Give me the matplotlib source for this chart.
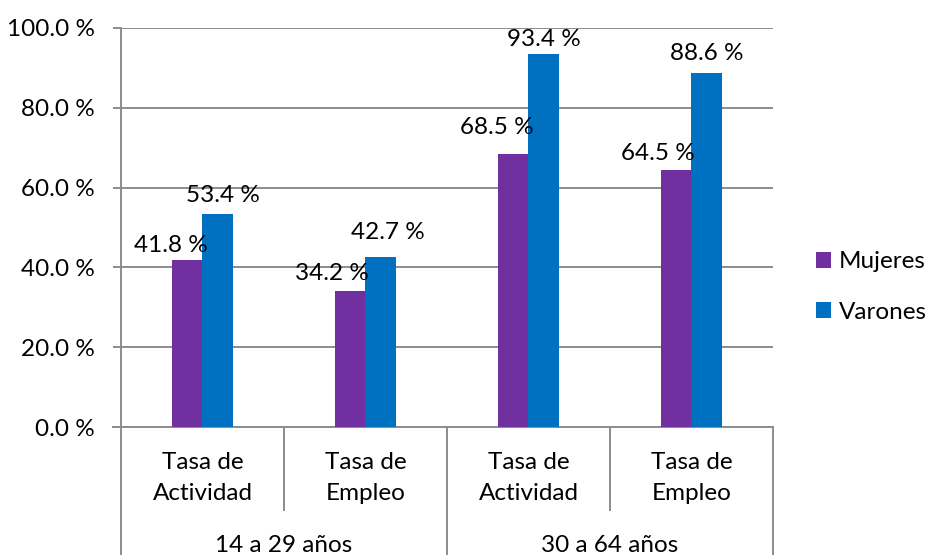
import numpy as np
import matplotlib.pyplot as plt

plt.rcParams['font.family'] = ['Lato', 'DejaVu Sans']

groups = ['14 a 29 años', '30 a 64 años']
categories = ['Tasa de\nActividad', 'Tasa de\nEmpleo', 'Tasa de\nActividad', 'Tasa de\nEmpleo']
mujeres = [41.8, 34.2, 68.5, 64.5]
varones = [53.4, 42.7, 93.4, 88.6]
yticks = [0, 20, 40, 60, 80, 100]

# label offsets in pixels (dx, dy) relative to bar top center, like Excel placed them
off_m = [(-16, 15), (-18, 17), (-16, 26), (-18, 16)]
off_v = [(5, 18), (7, 24), (0, 15), (0, 20)]

c_m = '#7030A0'
c_v = '#0070C0'
grid_c = '#8c8c8c'
fs = 17.5

fig = plt.figure(figsize=(9.29, 5.55), dpi=100)
W, H = 929, 555
ax = fig.add_axes([121 / W, 1 - 427 / H, (773 - 121) / W, (427 - 28) / H])

x = np.arange(len(categories))
bw = 0.19
ax.bar(x - bw / 2, mujeres, bw, color=c_m, label='Mujeres', zorder=3)
ax.bar(x + bw / 2, varones, bw, color=c_v, label='Varones', zorder=3)

px = 72 / 100.0
for i in range(len(x)):
    ax.annotate('%.1f %%' % mujeres[i], (x[i] - bw / 2, mujeres[i]),
                xytext=(off_m[i][0] * px, off_m[i][1] * px), textcoords='offset points',
                ha='center', va='center', fontsize=fs)
    ax.annotate('%.1f %%' % varones[i], (x[i] + bw / 2, varones[i]),
                xytext=(off_v[i][0] * px, off_v[i][1] * px), textcoords='offset points',
                ha='center', va='center', fontsize=fs)

ax.set_xlim(-0.5, len(categories) - 0.5)
ax.set_ylim(0, 100)
ax.set_yticks(yticks)
ax.set_yticklabels(['%.1f %%' % v for v in yticks], fontsize=fs)
ax.tick_params(axis='y', length=6, width=1.4, color=grid_c, pad=13)
ax.set_xticks([])
for v in yticks:
    ax.axhline(v, color=grid_c, lw=1.4, zorder=1)

for s in ['top', 'right', 'bottom']:
    ax.spines[s].set_visible(False)
ax.spines['left'].set_color(grid_c)
ax.spines['left'].set_linewidth(1.4)

# multi-level category axis
tr = ax.get_xaxis_transform()
ax.plot([-0.5 - 8 / 163, 3.5], [0, 0], color=grid_c, lw=1.4, transform=tr, clip_on=False)
for b in [-0.5, 1.5, 3.5]:
    ax.plot([b, b], [0, -0.33], color=grid_c, lw=1.4, transform=tr, clip_on=False)
for b in [0.5, 2.5]:
    ax.plot([b, b], [0, -0.208], color=grid_c, lw=1.4, transform=tr, clip_on=False)
for i, c in enumerate(categories):
    ax.text(x[i], -0.128, c, transform=tr, ha='center', va='center', fontsize=fs,
            linespacing=1.55)
for j, g in enumerate(groups):
    ax.text(2 * j + 0.5, -0.296, g, transform=tr, ha='center', va='center', fontsize=fs)

fig.legend(loc='center left', bbox_to_anchor=(816 / W, 1 - 287 / H), frameon=False,
           fontsize=fs, handlelength=0.6, handleheight=0.6, handletextpad=0.35,
           labelspacing=1.2, borderpad=0, borderaxespad=0)

fig.savefig('out.png', dpi=100)
